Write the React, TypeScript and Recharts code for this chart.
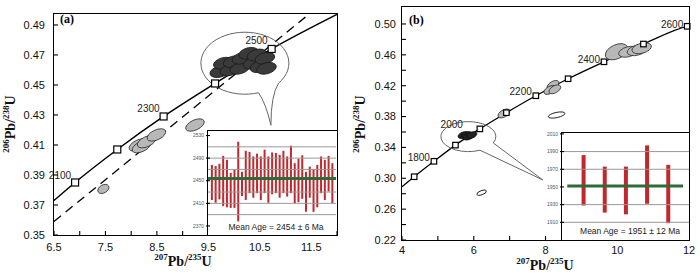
import React from "react"
import { ComposedChart, XAxis, YAxis, Line, Scatter, Bar, ReferenceLine } from "recharts"

// ---- panel (a) axes ----
const aXTicks = [6.5, 7, 7.5, 8, 8.5, 9, 9.5, 10, 10.5, 11, 11.5, 12]
const aXLabels = ["6.5", "7.5", "8.5", "9.5", "10.5", "11.5"]
const aYTicks = [0.35, 0.37, 0.39, 0.41, 0.43, 0.45, 0.47, 0.49]
const aYLabels = ["0.35", "0.37", "0.39", "0.41", "0.43", "0.45", "0.47", "0.49"]

// concordia curve and age markers (a)
const aCurveX = [6.5, 6.91, 7.73, 8.63, 9.63, 10.73, 12]
const aCurveY = [0.373, 0.385, 0.407, 0.429, 0.451, 0.474, 0.497]
const aMarkX = [6.91, 7.73, 8.63, 9.63, 10.73]
const aMarkY = [0.385, 0.407, 0.429, 0.451, 0.474]
const aMarkLabels = ["2100", "", "2300", "", "2500"]

// dashed reference line (a)
const aDashX = [6.5, 11.45]
const aDashY = [0.359, 0.497]

// analysis ellipses (a)
const aDarkX = [9.72, 9.79, 9.92, 9.98, 10.11, 10.15, 10.28, 10.37, 10.44, 10.5, 10.6, 10.63]
const aDarkY = [0.4589, 0.4645, 0.46, 0.4655, 0.4611, 0.4678, 0.4711, 0.4645, 0.47, 0.4622, 0.4678, 0.4611]
const aGrayX = [8.14, 8.2, 8.3, 8.49, 9.24]
const aGrayY = [0.41, 0.4089, 0.4122, 0.4167, 0.4233]
const aSmallX = [7.46]
const aSmallY = [0.3807]
const aCalloutX = [10.21]
const aCalloutY = [0.4645]

// inset (a): individual ages
const aAgeLow = [2416, 2411, 2417, 2405, 2403, 2402, 2402, 2378, 2423, 2416, 2428, 2420, 2428, 2416, 2428, 2411, 2426,
  2428, 2420, 2428, 2422, 2428, 2410, 2412, 2418, 2395, 2420, 2395, 2403, 2428, 2416, 2431, 2410]
const aAgeHigh = [2478, 2476, 2480, 2494, 2487, 2464, 2469, 2519, 2466, 2503, 2501, 2493, 2498, 2493, 2505, 2493, 2500,
  2499, 2496, 2503, 2493, 2512, 2481, 2489, 2495, 2466, 2475, 2470, 2478, 2493, 2487, 2494, 2481]
const aMean = 2454
const aInsetTicks = [2370, 2410, 2450, 2490, 2530]
const aInsetGrid = [2390, 2410, 2430, 2470, 2490, 2510]

// ---- panel (b) axes ----
const bXTicks = [4, 5, 6, 7, 8, 9, 10, 11, 12]
const bXLabels = ["4", "6", "8", "10", "12"]
const bYTicks = [0.22, 0.24, 0.26, 0.28, 0.3, 0.32, 0.34, 0.36, 0.38, 0.4, 0.42, 0.44, 0.46, 0.48, 0.5]
const bYLabels = ["0.22", "0.26", "0.30", "0.34", "0.38", "0.42", "0.46", "0.50"]

const bCurveX = [4, 4.34, 4.89, 5.49, 6.17, 6.91, 7.73, 8.63, 9.63, 10.73, 11.95, 12]
const bCurveY = [0.289, 0.302, 0.322, 0.343, 0.364, 0.385, 0.407, 0.429, 0.451, 0.474, 0.497, 0.4975]
const bMarkX = [4.34, 4.89, 5.49, 6.17, 6.91, 7.73, 8.63, 9.63, 10.73, 11.95]
const bMarkY = [0.302, 0.322, 0.343, 0.364, 0.385, 0.407, 0.429, 0.451, 0.474, 0.497]
const bMarkLabels = ["", "1800", "", "2000", "", "2200", "", "2400", "", "2600"]

const bDarkX = [5.71, 5.8, 5.85, 5.94]
const bDarkY = [0.356, 0.3561, 0.354, 0.356]
const bBigX = [9.98]
const bBigY = [0.464]
const bGrayX = [10.31, 10.55, 10.68]
const bGrayY = [0.464, 0.466, 0.4685]
const bSmallX = [6.84, 8.21, 8.12, 8.26]
const bSmallY = [0.384, 0.421, 0.4145, 0.4153]
const bOpenX = [8.31]
const bOpenY = [0.382]
const bOpenSmallX = [6.22]
const bOpenSmallY = [0.2813]
const bCalloutX = [5.85]
const bCalloutY = [0.354]

// inset (b)
const bAgeLow = [1929, 1921, 1919, 1931, 1909]
const bAgeHigh = [1986, 1973, 1973, 1997, 1975]
const bMean = 1951
const bInsetTicks = [1910, 1930, 1950, 1970, 1990, 2010]
const bInsetGrid = [1910, 1930, 1970, 1990]

const sans = "'Liberation Sans', Arial, sans-serif"
const serif = "'Liberation Serif', 'Times New Roman', serif"

const pts = (xs: number[], ys: number[], labels?: string[]) =>
  xs.map((x, i) => ({ x, y: ys[i], label: labels ? labels[i] : "" }))

const ellipse = (rx: number, ry: number, rot: number, fill: string, stroke: string) => (p: any) => (
  <ellipse cx={p.cx} cy={p.cy} rx={rx} ry={ry} transform={`rotate(${rot} ${p.cx} ${p.cy})`}
    fill={fill} stroke={stroke} strokeWidth={0.8} />
)

const marker = (size: number, dx: Record<string, number>, dy: Record<string, number>) => (p: any) => {
  const lab = p.payload.label
  return (
    <g>
      <rect x={p.cx - size / 2} y={p.cy - size / 2} width={size} height={size} fill="#fff" stroke="#000" strokeWidth={1.2} />
      {lab && (
        <text x={p.cx + (dx[lab] ?? -4)} y={p.cy + (dy[lab] ?? -4)} textAnchor="end" fontSize={10}
          fontFamily={sans} fill="#222">{lab}</text>
      )}
    </g>
  )
}

// speech bubble: ellipse outline opening into a tail
const bubble = (rx: number, ry: number, a1: number, a2: number, tip: number[], c1: number[] | null, c2: number[] | null) =>
  (p: any) => {
    const r = Math.PI / 180
    const sx = p.cx + rx * Math.cos(a1 * r), sy = p.cy + ry * Math.sin(a1 * r)
    const ex = p.cx + rx * Math.cos(a2 * r), ey = p.cy + ry * Math.sin(a2 * r)
    const tx = p.cx + tip[0], ty = p.cy + tip[1]
    const toTip = c1 ? `Q${p.cx + c1[0]},${p.cy + c1[1]} ${tx},${ty}` : `L${tx},${ty}`
    const back = c2 ? `Q${p.cx + c2[0]},${p.cy + c2[1]} ${sx},${sy}` : `L${sx},${sy}`
    return <path d={`M${sx},${sy} A${rx},${ry} 0 1 1 ${ex},${ey} ${toTip} ${back}`} fill="none" stroke="#666" strokeWidth={1} />
  }

type TickOpt = { labels: string[]; digits: number; margin: number; len: number; out?: number; size: number; color: string }

const leftTick = (o: TickOpt) => (p: any) => {
  const txt = Number(p.payload.value).toFixed(o.digits)
  const ax = p.x + o.margin
  return (
    <g>
      <line x1={ax - (o.out ?? 0)} x2={ax + o.len} y1={p.y} y2={p.y} stroke="#000" strokeWidth={1.1} />
      {o.labels.includes(txt) && (
        <text x={p.x} y={p.y} dy="0.35em" textAnchor="end" fontSize={o.size} fontFamily={sans} fill={o.color}>{txt}</text>
      )}
    </g>
  )
}

const bottomTick = (o: TickOpt) => (p: any) => {
  const txt = Number(p.payload.value).toFixed(o.digits)
  const ay = p.y - o.margin
  return (
    <g>
      <line x1={p.x} x2={p.x} y1={ay} y2={ay - o.len} stroke="#000" strokeWidth={1.1} />
      {o.labels.includes(txt) && (
        <text x={p.x} y={p.y} dy="0.71em" textAnchor="middle" fontSize={o.size} fontFamily={sans} fill={o.color}>{txt}</text>
      )}
    </g>
  )
}

const abs = (left: number, top: number, w: number, h: number, extra: React.CSSProperties = {}): React.CSSProperties => ({
  position: "absolute", left, top, width: w, height: h, ...extra,
})

const Ratio = ({ a, b }: { a: string; b: string }) => (
  <span style={{ fontFamily: serif, fontWeight: "bold", fontSize: 14, color: "#111", whiteSpace: "nowrap" }}>
    <sup style={{ fontSize: 9 }}>{a}</sup>Pb/<sup style={{ fontSize: 9 }}>{b}</sup>U
  </span>
)

function PanelA() {
  return (
    <ComposedChart width={350} height={280} margin={{ top: 14, right: 13, bottom: 0, left: 0 }}>
      <XAxis type="number" dataKey="x" domain={[6.5, 12]} ticks={aXTicks} interval={0}
        axisLine={false} tickLine={false} tickSize={0} tickMargin={8} height={45}
        tick={bottomTick({ labels: aXLabels, digits: 1, margin: 8, len: 4, size: 11, color: "#111" })} />
      <YAxis type="number" dataKey="y" domain={[0.35, 0.4973]} ticks={aYTicks} interval={0}
        axisLine={false} tickLine={false} tickSize={0} tickMargin={9} width={54}
        tick={leftTick({ labels: aYLabels, digits: 2, margin: 9, len: 4, size: 11, color: "#111" })} />
      <Scatter data={pts(aCalloutX, aCalloutY)} shape={bubble(44, 31, 72, 40, [26, 62], [26, 32], [21, 40])} isAnimationActive={false} />
      <Line data={pts(aDashX, aDashY)} dataKey="y" type="linear" stroke="#000" strokeWidth={1.3}
        strokeDasharray="9 6" dot={false} activeDot={false} isAnimationActive={false} />
      <Scatter data={pts(aGrayX, aGrayY)} shape={ellipse(10, 5, -25, "#b8b8b8", "#333")} isAnimationActive={false} />
      <Scatter data={pts(aSmallX, aSmallY)} shape={ellipse(6, 4, -30, "#b8b8b8", "#333")} isAnimationActive={false} />
      <Scatter data={pts(aDarkX, aDarkY)} shape={ellipse(10, 5.5, -15, "#3a3a3a", "#1c1c1c")} isAnimationActive={false} />
      <Line data={pts(aCurveX, aCurveY)} dataKey="y" type="monotone" stroke="#000" strokeWidth={1.5}
        dot={false} activeDot={false} isAnimationActive={false} />
      <Scatter data={pts(aMarkX, aMarkY, aMarkLabels)} shape={marker(7, {}, { "2100": -3, "2300": -4, "2500": -5 })} isAnimationActive={false} />
    </ComposedChart>
  )
}

function PanelB() {
  return (
    <ComposedChart width={350} height={280} margin={{ top: 7, right: 11, bottom: 0, left: 0 }}>
      <XAxis type="number" dataKey="x" domain={[4, 12]} ticks={bXTicks} interval={0}
        axisLine={false} tickLine={false} tickSize={0} tickMargin={6} height={40}
        tick={bottomTick({ labels: bXLabels, digits: 0, margin: 6, len: 4, size: 11, color: "#111" })} />
      <YAxis type="number" dataKey="y" domain={[0.22, 0.522]} ticks={bYTicks} interval={0}
        axisLine={false} tickLine={false} tickSize={0} tickMargin={6} width={52}
        tick={leftTick({ labels: bYLabels, digits: 2, margin: 6, len: 4, size: 11, color: "#111" })} />
      <Scatter data={pts(bCalloutX, bCalloutY)} shape={bubble(27.5, 15, 65, 25, [74.4, 43.3], null, null)} isAnimationActive={false} />
      <Line data={pts(bCurveX, bCurveY)} dataKey="y" type="monotone" stroke="#000" strokeWidth={1.3}
        dot={false} activeDot={false} isAnimationActive={false} />
      <Scatter data={pts(bBigX, bBigY)} shape={ellipse(12, 7, -25, "#b8b8b8", "#333")} isAnimationActive={false} />
      <Scatter data={pts(bGrayX, bGrayY)} shape={ellipse(10, 5, -15, "#b8b8b8", "#333")} isAnimationActive={false} />
      <Scatter data={pts(bSmallX, bSmallY)} shape={ellipse(6.5, 3.5, -30, "#b8b8b8", "#333")} isAnimationActive={false} />
      <Scatter data={pts(bOpenX, bOpenY)} shape={ellipse(8.5, 2.6, -12, "#fff", "#000")} isAnimationActive={false} />
      <Scatter data={pts(bOpenSmallX, bOpenSmallY)} shape={ellipse(5, 2, -20, "#fff", "#000")} isAnimationActive={false} />
      <Scatter data={pts(bDarkX, bDarkY)} shape={ellipse(5.5, 3, -20, "#222", "#111")} isAnimationActive={false} />
      <Scatter data={pts(bMarkX, bMarkY, bMarkLabels)}
        shape={marker(5.5, { "2000": -17 }, { "1800": 0, "2000": -1, "2200": -1, "2400": 1, "2600": 2 })} isAnimationActive={false} />
    </ComposedChart>
  )
}

function InsetA() {
  const data = aAgeLow.map((lo, i) => ({ i: i + 1, range: [lo, aAgeHigh[i]] }))
  return (
    <ComposedChart width={150} height={109} data={data} margin={{ top: 5, right: 0, bottom: 0, left: 0 }}>
      <XAxis type="number" dataKey="i" domain={[0, 34]} hide />
      <YAxis type="number" domain={[2354, 2538]} ticks={aInsetTicks} interval={0} allowDataOverflow width={22}
        axisLine={false} tickLine={false} tickSize={0} tickMargin={4}
        tick={leftTick({ labels: aInsetTicks.map(String), digits: 0, margin: 4, len: 2, out: 2, size: 5, color: "#555" })} />
      {aInsetGrid.map((v) => <ReferenceLine key={v} y={v} stroke="#999" strokeWidth={1} />)}
      <Bar dataKey="range" barSize={2} fill="#c1272d" isAnimationActive={false} />
      <ReferenceLine y={aMean} stroke="#2e6b3a" strokeWidth={3} />
    </ComposedChart>
  )
}

function InsetB() {
  const data = bAgeLow.map((lo, i) => ({ i: i + 1, range: [lo, bAgeHigh[i]] }))
  return (
    <ComposedChart width={149} height={112} data={data} margin={{ top: 5, right: 0, bottom: 0, left: 0 }}>
      <XAxis type="number" dataKey="i" domain={[0, 6]} hide />
      <YAxis type="number" domain={[1890, 2011]} ticks={bInsetTicks} interval={0} allowDataOverflow width={22}
        axisLine={false} tickLine={false} tickSize={0} tickMargin={4}
        tick={leftTick({ labels: bInsetTicks.map(String), digits: 0, margin: 4, len: 2, out: 2, size: 5, color: "#555" })} />
      {bInsetGrid.map((v) => <ReferenceLine key={v} y={v} stroke="#999" strokeWidth={1} />)}
      <Bar dataKey="range" barSize={4} fill="#c1272d" isAnimationActive={false} />
      <ReferenceLine segment={[{ x: 0.25, y: bMean }, { x: 5.72, y: bMean }]} stroke="#2e6b3a" strokeWidth={3} />
    </ComposedChart>
  )
}

export default function App() {
  const box = "1.5px solid #000"
  const meanStyle: React.CSSProperties = { fontFamily: sans, fontSize: 8.5, color: "#222", textAlign: "center", whiteSpace: "nowrap" }
  return (
    <div style={{ position: "fixed", left: 0, top: 0, width: 700, height: 280, background: "#fff", overflow: "hidden" }}>
      <div style={abs(0, 0, 350, 280)}><PanelA /></div>
      <div style={abs(350, 0, 350, 280)}><PanelB /></div>

      <div style={abs(208, 131, 128, 104, { background: "#fff" })} />
      <div style={abs(186, 126, 150, 109)}><InsetA /></div>
      <div style={abs(562, 133, 127, 107, { background: "#fff" })} />
      <div style={abs(540, 128, 149, 112)}><InsetB /></div>

      <div style={abs(207, 130, 130, 106, { borderTop: box, borderLeft: box, boxSizing: "border-box" })} />
      <div style={abs(561, 132, 129, 109, { borderTop: box, borderLeft: box, boxSizing: "border-box" })} />
      <div style={abs(53, 13, 285, 223, { border: box, boxSizing: "border-box" })} />
      <div style={abs(401, 6, 289, 235, { border: box, boxSizing: "border-box" })} />

      <div style={abs(226, 222, 100, 12, meanStyle)}>Mean Age = 2454 ± 6 Ma</div>
      <div style={abs(580, 226, 100, 12, meanStyle)}>Mean Age = 1951 ± 12 Ma</div>

      <div style={abs(60, 12, 30, 16, { fontFamily: serif, fontWeight: "bold", fontSize: 12 })}>(a)</div>
      <div style={abs(409, 13, 30, 16, { fontFamily: serif, fontWeight: "bold", fontSize: 12 })}>(b)</div>

      <div style={abs(123, 252, 120, 20, { textAlign: "center" })}><Ratio a="207" b="235" /></div>
      <div style={abs(485, 256, 120, 20, { textAlign: "center" })}><Ratio a="207" b="235" /></div>
      <div style={abs(-49, 114, 120, 20, { textAlign: "center", transform: "rotate(-90deg)" })}><Ratio a="206" b="238" /></div>
      <div style={abs(301, 114, 120, 20, { textAlign: "center", transform: "rotate(-90deg)" })}><Ratio a="206" b="238" /></div>
    </div>
  )
}
